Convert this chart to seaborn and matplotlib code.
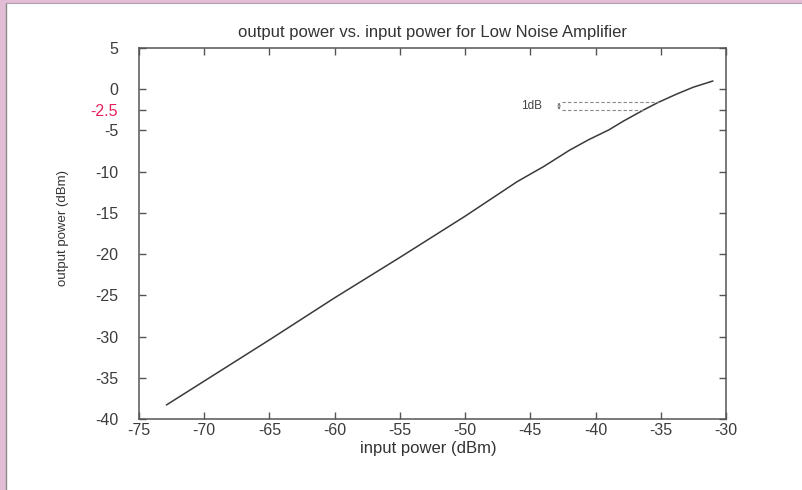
import matplotlib
matplotlib.use("Agg")
import matplotlib.pyplot as plt
from matplotlib.patches import Rectangle
from matplotlib.lines import Line2D
import seaborn as sns
import numpy as np
import pandas as pd

# ---- data ----
input_power = [-72.9, -70.0, -65.0, -60.0, -55.0, -50.0, -46.0, -44.0, -42.0,
               -40.5, -39.0, -37.9, -36.3, -35.2, -33.8, -32.5, -31.0]
output_power = [-38.3, -35.4, -30.4, -25.3, -20.4, -15.4, -11.2, -9.4, -7.4,
                -6.1, -4.95, -3.9, -2.5, -1.6, -0.6, 0.25, 1.0]

x_ticks = [-75, -70, -65, -60, -55, -50, -45, -40, -35, -30]
y_ticks = [5, 0, -2.5, -5, -10, -15, -20, -25, -30, -35, -40]
y_tick_labels = ["5", "0", "-2.5", "-5", "-10", "-15", "-20", "-25", "-30", "-35", "-40"]

comp_levels = [-1.6, -2.5]          # 1 dB compression guide lines
comp_x_start = -42.6
comp_x_end = [-35.2, -36.3]
comp_label = "1dB"

title = "output power vs. input power for Low Noise Amplifier"
xlabel = "input power (dBm)"
ylabel = "output power (dBm)"

df = pd.DataFrame({"input": input_power, "output": output_power})

sns.set_theme(style="ticks")
plt.rcParams["font.family"] = ["Liberation Sans", "DejaVu Sans"]

W, H = 803, 490
fig = plt.figure(figsize=(W / 100, H / 100), dpi=100)
fig.patch.set_facecolor("white")

# pink frame on left and top edges
pink = "#e3bcd5"
fig.patches.append(Rectangle((0, 0), 6 / W, 1, transform=fig.transFigure,
                             facecolor=pink, edgecolor="none", zorder=0))
fig.patches.append(Rectangle((0, 1 - 3 / H), 1, 3 / H, transform=fig.transFigure,
                             facecolor=pink, edgecolor="none", zorder=0))
fig.lines.append(Line2D([6.5 / W, 6.5 / W], [0, 1 - 3 / H], transform=fig.transFigure,
                        color="#8a8a8a", lw=1.0))
fig.lines.append(Line2D([6.5 / W, 1], [1 - 3.5 / H, 1 - 3.5 / H], transform=fig.transFigure,
                        color="#b0a0aa", lw=0.8))

left, right, top, bottom = 139, 726, 48, 419
ax = fig.add_axes([left / W, 1 - bottom / H, (right - left) / W, (bottom - top) / H])
ax.set_facecolor("white")

sns.lineplot(data=df, x="input", y="output", ax=ax, color="#3a3a3a", lw=1.1,
             sort=False)

ax.set_xlim(-75, -30)
ax.set_ylim(-40, 5)
ax.set_xticks(x_ticks)
ax.set_xticklabels([str(t) for t in x_ticks])
ax.set_yticks(y_ticks)
ax.set_yticklabels(y_tick_labels)

tick_col = "#3c3c3c"
ax.tick_params(axis="both", direction="in", length=5, width=1.0, color="#555555",
               labelsize=11.5, labelcolor=tick_col, top=True, right=True,
               labeltop=False, labelright=False)
ax.tick_params(axis="x", pad=3)
ax.tick_params(axis="y", pad=15)
for lab in ax.get_yticklabels():
    if lab.get_text() == "-2.5":
        lab.set_color("#e8205e")

for sp in ax.spines.values():
    sp.set_color("#555555")
    sp.set_linewidth(1.1)
    sp.set_visible(True)

ax.set_title(title, fontsize=12, color="#333333", pad=8)
ax.set_xlabel(xlabel, fontsize=12, color="#333333")
ax.set_ylabel(ylabel, fontsize=9.5, color="#333333")
ax.xaxis.set_label_coords((428 - left) / (right - left), -(441 - bottom) / (bottom - top))
ax.yaxis.set_label_coords(-(left - 69) / (right - left), 1 - (228 - top) / (bottom - top))

# 1 dB compression annotation
for lvl, xe in zip(comp_levels, comp_x_end):
    ax.plot([comp_x_start, xe], [lvl, lvl], color="#888888", lw=0.8,
            ls=(0, (3, 2)))
ax.annotate("", xy=(comp_x_start - 0.2, comp_levels[0]),
            xytext=(comp_x_start - 0.2, comp_levels[1]),
            arrowprops=dict(arrowstyle="<->", color="#666666", lw=0.6,
                            mutation_scale=4, shrinkA=0, shrinkB=0))
ax.text(-44.9, (comp_levels[0] + comp_levels[1]) / 2, comp_label, fontsize=8.5,
        color="#444444", ha="center", va="center")

fig.savefig("out.png", dpi=100, facecolor=fig.get_facecolor())
